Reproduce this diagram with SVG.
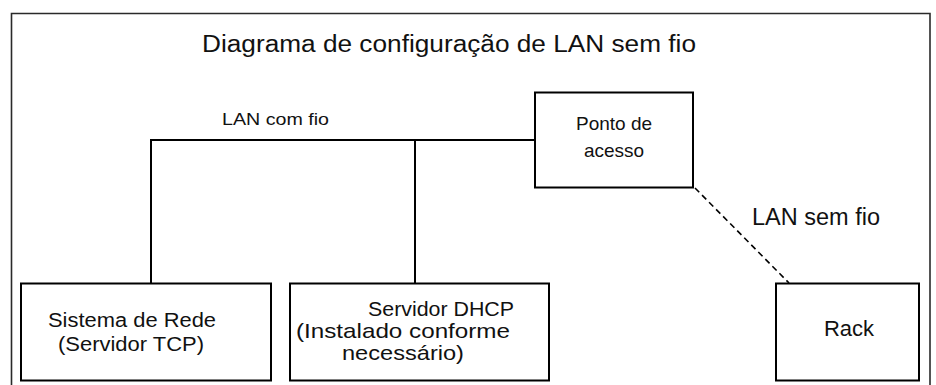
<svg xmlns="http://www.w3.org/2000/svg" width="936" height="385" viewBox="0 0 936 385">
  <style>
    .frame { fill: none; stroke: #2a2a2a; stroke-width: 1.6; }
    .box { fill: #ffffff; stroke: #000000; stroke-width: 2; }
    .wire { fill: none; stroke: #000000; stroke-width: 2; }
    .air { fill: none; stroke: #000000; stroke-width: 1.6; stroke-dasharray: 6 4; }
    text { font-family: "Liberation Sans", Arial, sans-serif; fill: #111111; }
    .lbl { font-size: 20px; }
    .mid { font-size: 19px; text-anchor: middle; }
  </style>
  <rect width="936" height="385" fill="#ffffff"/>

  <!-- outer frame (open at the bottom) -->
  <path class="frame" d="M11.5,390 V13.5 H930 V390"/>

  <!-- title -->
  <text x="202" y="52" font-size="23" textLength="494" lengthAdjust="spacingAndGlyphs">Diagrama de configuração de LAN sem fio</text>

  <!-- connectors -->
  <g id="connectors">
    <path class="wire" d="M151,283 V140 H535"/>
    <path class="wire" d="M415,140 V283"/>
    <path class="air" d="M695,188 L789,283"/>
    <text x="222" y="125" font-size="17" textLength="107" lengthAdjust="spacingAndGlyphs">LAN com fio</text>
    <text x="752" y="225" font-size="23" textLength="128" lengthAdjust="spacingAndGlyphs">LAN sem fio</text>
  </g>

  <g id="access-point">
    <rect class="box" x="535" y="92.5" width="158" height="95"/>
    <text class="mid" x="614" y="130">Ponto de</text>
    <text class="mid" x="614" y="157">acesso</text>
  </g>

  <g id="network-system">
    <rect class="box" x="21" y="283.5" width="250" height="97"/>
    <text class="lbl" x="48" y="327" textLength="168" lengthAdjust="spacingAndGlyphs">Sistema de Rede</text>
    <text class="lbl" x="58" y="351" textLength="146" lengthAdjust="spacingAndGlyphs">(Servidor TCP)</text>
  </g>

  <g id="dhcp-server">
    <rect class="box" x="290" y="283.5" width="259" height="97"/>
    <text class="lbl" x="368" y="316" textLength="146" lengthAdjust="spacingAndGlyphs">Servidor DHCP</text>
    <text x="296" y="338" font-size="21" textLength="214" lengthAdjust="spacingAndGlyphs">(Instalado conforme</text>
    <text x="342" y="360" font-size="21" textLength="122" lengthAdjust="spacingAndGlyphs">necessário)</text>
  </g>

  <g id="rack">
    <rect class="box" x="776" y="283.5" width="143" height="97"/>
    <text x="849" y="336" font-size="22" text-anchor="middle">Rack</text>
  </g>
</svg>
